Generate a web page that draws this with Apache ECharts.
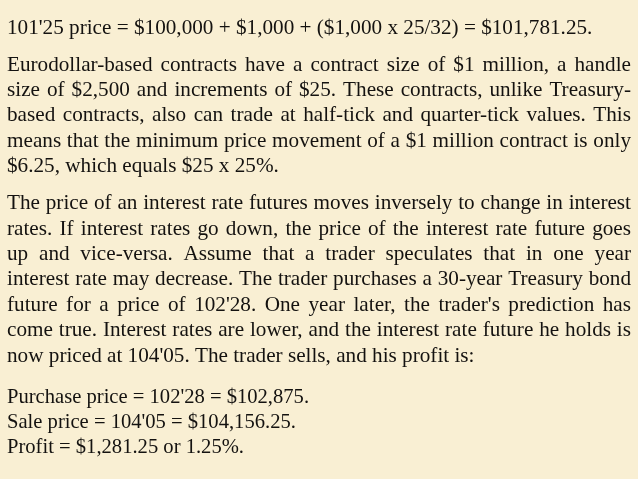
<!DOCTYPE html>
<html><head><meta charset="utf-8">
<script src="https://cdn.jsdelivr.net/npm/echarts@6/dist/echarts.min.js"></script>
<style>html,body{margin:0;padding:0;background:#F9EFD3}#c{width:638px;height:479px}</style>
</head><body><div id="c"></div>
<script>
// Text content of the slide
const line1 = ["101'25 price = $100,000 + $1,000 + ($1,000 x 25/32) = $101,781.25."];
const para2 = [
  "Eurodollar-based contracts have a contract size of $1 million, a handle",
  "size of $2,500 and increments of $25. These contracts, unlike Treasury-",
  "based contracts, also can trade at half-tick and quarter-tick values. This",
  "means that the minimum price movement of a $1 million contract is only",
  "$6.25, which equals $25 x 25%."
];
const para3 = [
  "The price of an interest rate futures moves inversely to change in interest",
  "rates. If interest rates go down, the price of the interest rate future goes",
  "up and vice-versa. Assume that a trader speculates that in one year",
  "interest rate may decrease. The trader purchases a 30-year Treasury bond",
  "future for a price of 102'28. One year later, the trader's prediction has",
  "come true. Interest rates are lower, and the interest rate future he holds is",
  "now priced at 104'05. The trader sells, and his profit is:"
];
const para4 = [
  "Purchase price = 102'28 = $102,875.",
  "Sale price = 104'05 = $104,156.25.",
  "Profit = $1,281.25 or 1.25%."
];

const FONT = "'Liberation Serif', 'Times New Roman', serif";
const LEFT = 7, RIGHT = 631;
const canvas = document.createElement('canvas');
const ctx = canvas.getContext('2d');
function measure(t, size) { ctx.font = size + 'px ' + FONT; return ctx.measureText(t).width; }

const blocks = [
  { lines: line1, size: 21.2, base: 35, step: 25.4, justify: false },
  { lines: para2, size: 21.2, base: 71.5, step: 25.4, justify: true },
  { lines: para3, size: 21.2, base: 210, step: 25.4, justify: true },
  { lines: para4, size: 20.6, base: 404, step: 24.7, justify: false }
];

const elements = [];
blocks.forEach(b => {
  b.lines.forEach((ln, i) => {
    const top = b.base + i * b.step - 0.8 * b.size;
    const last = i === b.lines.length - 1;
    const style = { fill: '#141210', font: b.size + 'px ' + FONT };
    if (b.justify && !last) {
      const words = ln.split(' ');
      const ws = words.map(w => measure(w, b.size));
      const total = ws.reduce((a, c) => a + c, 0);
      const gap = (RIGHT - LEFT - total) / (words.length - 1);
      let x = LEFT;
      words.forEach((w, k) => {
        elements.push({ type: 'text', x: x, y: top, style: Object.assign({ text: w }, style) });
        x += ws[k] + gap;
      });
    } else {
      elements.push({ type: 'text', x: LEFT, y: top, style: Object.assign({ text: ln }, style) });
    }
  });
});

const chart = echarts.init(document.getElementById('c'));
chart.setOption({ backgroundColor: '#F9EFD3', graphic: { elements: elements } });
</script></body></html>
